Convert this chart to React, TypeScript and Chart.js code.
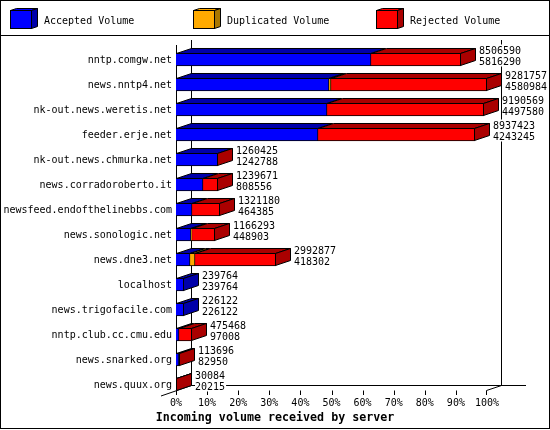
import { useEffect, useRef } from 'react';
import { Chart, registerables } from 'chart.js';

Chart.register(...registerables);

const servers = [
  'nntp.comgw.net',
  'news.nntp4.net',
  'nk-out.news.weretis.net',
  'feeder.erje.net',
  'nk-out.news.chmurka.net',
  'news.corradoroberto.it',
  'newsfeed.endofthelinebbs.com',
  'news.sonologic.net',
  'news.dne3.net',
  'localhost',
  'news.trigofacile.com',
  'nntp.club.cc.cmu.edu',
  'news.snarked.org',
  'news.quux.org',
];
const totalVolume = [8506590, 9281757, 9190569, 8937423, 1260425, 1239671, 1321180, 1166293, 2992877, 239764, 226122, 475468, 113696, 30084];
const acceptedVolume = [5816290, 4580984, 4497580, 4243245, 1242788, 808556, 464385, 448903, 418302, 239764, 226122, 97008, 82950, 20215];
const duplicatedVolume = [0, 35000, 0, 0, 0, 0, 0, 20000, 145000, 0, 0, 0, 0, 0];
const rejectedVolume = [2690300, 4665773, 4692989, 4694178, 17637, 431115, 856795, 697390, 2429575, 0, 0, 378460, 30746, 9869];
const percentTicks = ['0%', '10%', '20%', '30%', '40%', '50%', '60%', '70%', '80%', '90%', '100%'];
const maxVolume = 9281757;

const seriesNames = ['Accepted Volume', 'Duplicated Volume', 'Rejected Volume'];
const frontColors = ['#0000ff', '#ffaa00', '#ff0000'];
const darkColors = ['#0000aa', '#aa7700', '#aa0000'];

const MONO = '"DejaVu Sans Mono", monospace';
const DEPTH_X = 15;
const DEPTH_Y = 5;

function poly(ctx: CanvasRenderingContext2D, pts: number[][], fill: string) {
  ctx.beginPath();
  pts.forEach(([x, y], i) => (i ? ctx.lineTo(x, y) : ctx.moveTo(x, y)));
  ctx.closePath();
  ctx.fillStyle = fill;
  ctx.fill();
  ctx.stroke();
}

function line(ctx: CanvasRenderingContext2D, x1: number, y1: number, x2: number, y2: number) {
  ctx.beginPath();
  ctx.moveTo(x1, y1);
  ctx.lineTo(x2, y2);
  ctx.stroke();
}

const frame3d = {
  id: 'frame3d',
  // the title is centred on the whole picture, not on the plot
  afterLayout(chart: any) {
    chart.titleBlock.left = 0;
    chart.titleBlock.right = chart.width;
  },
  // walls and the frame sit behind the bars
  beforeDatasetsDraw(chart: any) {
    const { ctx, scales } = chart;
    const x = scales.x;
    const left = 176.5;
    const right = Math.round(x.getPixelForValue(maxVolume)) - 0.5;
    const floor = 385.5;
    ctx.save();
    ctx.strokeStyle = '#000';
    ctx.lineWidth = 1;
    line(ctx, left, 45, left, 395);
    line(ctx, left + DEPTH_X, 40, left + DEPTH_X, floor);
    line(ctx, right + DEPTH_X, 40, right + DEPTH_X, floor);
    line(ctx, left + DEPTH_X, floor, 526, floor);
    line(ctx, left + DEPTH_X, floor, 161, 396);
    line(ctx, right, floor + DEPTH_Y, right + DEPTH_X, floor);
    x.ticks.forEach((t: any) => {
      const px = Math.round(x.getPixelForValue(t.value)) + 0.5;
      line(ctx, Math.min(px, right), floor + DEPTH_Y, Math.min(px, right), 395);
    });
    ctx.restore();

    // snap the bars to whole pixels
    chart.data.datasets.forEach((_: any, i: number) => {
      chart.getDatasetMeta(i).data.forEach((el: any) => {
        el.x = Math.round(el.x);
        el.base = Math.round(el.base);
      });
    });
  },
  afterDatasetsDraw(chart: any) {
    const { ctx } = chart;
    ctx.save();
    ctx.strokeStyle = '#000';
    ctx.lineWidth = 1;
    servers.forEach((_, row) => {
      let lastEnd = 176;
      let y = 0;
      let h = 13;
      let side = -1;
      chart.data.datasets.forEach((ds: any, i: number) => {
        const el = chart.getDatasetMeta(i).data[row];
        y = el.y;
        h = el.height;
        if (ds.data[row] > 0) side = i;
        const l = el.base;
        const r = el.x;
        if (r <= l) return;
        const top = y - h / 2 + 0.5;
        poly(ctx, [
          [l + 0.5, top],
          [l + 0.5 + DEPTH_X, top - DEPTH_Y],
          [r - 0.5 + DEPTH_X, top - DEPTH_Y],
          [r - 0.5, top],
        ], darkColors[i]);
        lastEnd = r;
      });
      if (side >= 0) {
        const top = y - h / 2 + 0.5;
        const bottom = y + h / 2 - 0.5;
        poly(ctx, [
          [lastEnd - 0.5, top],
          [lastEnd - 0.5 + DEPTH_X, top - DEPTH_Y],
          [lastEnd - 0.5 + DEPTH_X, bottom - DEPTH_Y],
          [lastEnd - 0.5, bottom],
        ], darkColors[side]);
      }

      // the two values sit on a white box that hides the walls
      const textX = lastEnd + DEPTH_X + 3;
      ctx.font = `10px ${MONO}`;
      const a = String(totalVolume[row]);
      const b = String(acceptedVolume[row]);
      const w = Math.max(ctx.measureText(a).width, ctx.measureText(b).width);
      ctx.fillStyle = '#fff';
      ctx.fillRect(textX, y - 15, w + 1, 22);
      ctx.fillStyle = '#000';
      ctx.textAlign = 'left';
      ctx.textBaseline = 'middle';
      ctx.fillText(a, textX, y - 8.5);
      ctx.fillText(b, textX, y + 2.5);
    });
    ctx.restore();
  },
  afterDraw(chart: any) {
    const { ctx } = chart;
    ctx.save();
    ctx.strokeStyle = '#000';
    ctx.lineWidth = 1;
    ctx.strokeRect(0.5, 0.5, 549, 428);
    line(ctx, 0, 35.5, 550, 35.5);

    // legend row
    seriesNames.forEach((name, i) => {
      const x = 10.5 + i * 183;
      poly(ctx, [[x, 10.5], [x + 6, 8.5], [x + 27, 8.5], [x + 21, 10.5]], frontColors[i]);
      poly(ctx, [[x + 21, 10.5], [x + 27, 8.5], [x + 27, 26.5], [x + 21, 28.5]], darkColors[i]);
      ctx.fillStyle = frontColors[i];
      ctx.fillRect(x, 10.5, 21, 18);
      ctx.strokeRect(x, 10.5, 21, 18);
      ctx.fillStyle = '#000';
      ctx.font = `10px ${MONO}`;
      ctx.textAlign = 'left';
      ctx.textBaseline = 'middle';
      ctx.fillText(name, x + 33.5, 21);
    });
    ctx.restore();
  },
};

export default function App() {
  const chartRef = useRef<HTMLCanvasElement>(null);

  useEffect(() => {
    if (!chartRef.current) return;
    const series = [acceptedVolume, duplicatedVolume, rejectedVolume];
    const chart = new Chart(chartRef.current, {
      type: 'bar',
      data: {
        labels: servers,
        datasets: series.map((data, i) => ({
          label: seriesNames[i],
          data,
          backgroundColor: frontColors[i],
          borderColor: '#000',
          borderWidth: 1,
          barThickness: 13,
        })),
      },
      options: {
        indexAxis: 'y',
        responsive: false,
        animation: false,
        devicePixelRatio: 1,
        layout: { padding: { left: 0, right: 63, top: 47, bottom: 0 } },
        plugins: {
          legend: { display: false },
          tooltip: { enabled: false },
          title: {
            display: true,
            position: 'bottom',
            text: 'Incoming volume received by server',
            color: '#000',
            font: { family: MONO, size: 11.67, weight: 'bold', lineHeight: 1.2 },
            padding: { top: 0, bottom: 5 },
          },
        },
        scales: {
          x: {
            stacked: true,
            min: 0,
            max: maxVolume,
            border: { display: false },
            grid: { display: false, drawTicks: false },
            afterFit: (scale: any) => {
              scale.height = 14;
            },
            afterBuildTicks: (scale: any) => {
              scale.ticks = percentTicks.map((_, i) => ({ value: (maxVolume * i) / 10 }));
            },
            ticks: {
              color: '#000',
              padding: 0,
              autoSkip: false,
              maxRotation: 0,
              font: { family: MONO, size: 10 },
              callback: (_v: any, i: number) => percentTicks[i],
            },
          },
          y: {
            stacked: true,
            border: { display: false },
            grid: { display: false, drawTicks: false },
            afterFit: (scale: any) => {
              scale.width = 176;
            },
            ticks: {
              color: '#000',
              padding: 4,
              labelOffset: 1,
              autoSkip: false,
              font: { family: MONO, size: 10 },
            },
          },
        },
      },
      plugins: [frame3d],
    } as any);
    return () => chart.destroy();
  }, []);

  return (
    <div style={{ position: 'absolute', left: 0, top: 0, width: 550, height: 430, background: '#fff' }}>
      <canvas ref={chartRef} width={550} height={430} style={{ display: 'block' }} />
    </div>
  );
}
